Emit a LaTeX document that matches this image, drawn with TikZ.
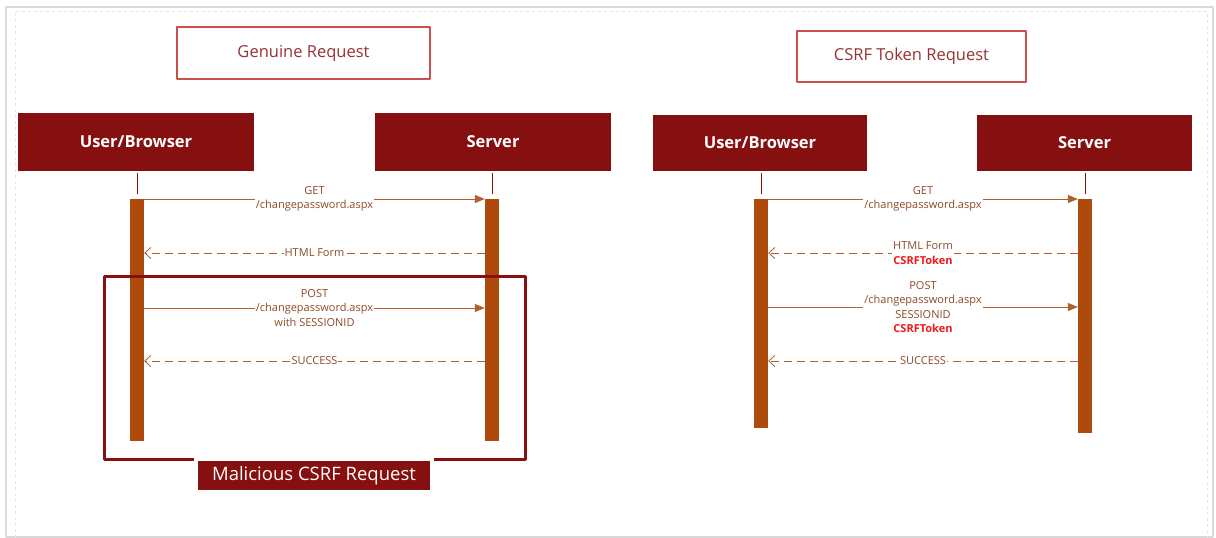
\documentclass[tikz,border=0pt]{standalone}
\usepackage{fontspec}
\setmainfont{Open Sans}
\usetikzlibrary{arrows.meta,positioning}
\definecolor{hdred}{HTML}{85100F}
\definecolor{barbrown}{HTML}{AE4A0C}
\definecolor{msgline}{HTML}{B0602C}
\definecolor{msgtext}{HTML}{8E4A26}
\definecolor{ttlred}{HTML}{C8504D}
\definecolor{ttltext}{HTML}{963232}
\definecolor{tokred}{HTML}{F01818}
\newcommand{\csrftok}{\textcolor{tokred}{\bfseries CSRFToken}}
\begin{document}
\begin{tikzpicture}[x=1pt,y=-1pt,line join=round,
	hd/.style={fill=hdred,text=white,inner sep=0pt,minimum height=58pt,font=\bfseries\fontsize{16.5}{18}\selectfont},
	ttl/.style={draw=ttlred,line width=1.2pt,text=ttltext,inner sep=0pt,font=\fontsize{16.5}{19}\selectfont},
	bar/.style={fill=barbrown,inner sep=0pt,minimum width=14pt,anchor=north},
	life/.style={draw=hdred,line width=0.7pt,dash pattern=on 21pt off 4pt,shorten <=2pt,shorten >=5pt},
	call/.style={draw=msgline,line width=0.8pt,-{Triangle[length=10pt,width=8pt]}},
	reply/.style={draw=msgline,line width=0.8pt,dash pattern=on 8pt off 5pt,-{Straight Barb[length=6pt,width=11pt]}},
	lbl/.style={fill=white,text=msgtext,inner sep=1pt,align=center,font=\fontsize{11}{14.5}\selectfont}]
	\useasboundingbox (0,0) rectangle (1216,538);
	% frame
	\draw[gray!30,line width=2pt] (6,7) rectangle (1213,537);
	\draw[gray!20,dashed] (15,538) -- (15,11) -- (1207,11) -- (1207,538);
	% titles
	\node[ttl,minimum width=253pt,minimum height=52pt] (gen) at (303.5,53) {Genuine Request};
	\node[ttl,minimum width=229pt,minimum height=51pt] (tok) at (911.5,56.5) {CSRF Token Request};
	% headers
	\node[hd,minimum width=236pt] (lu) at (136,142) {User/Browser};
	\node[hd,minimum width=236pt] (ls) at (493,142) {Server};
	\node[hd,minimum width=214pt,minimum height=56pt] (ru) at (760,143) {User/Browser};
	\node[hd,minimum width=215pt,minimum height=56pt] (rs) at (1084.5,143) {Server};
	% activation bars
	\node[bar,minimum height=242pt] (lub) at (137,199) {};
	\node[bar,minimum height=242pt] (lsb) at (492,199) {};
	\node[bar,minimum height=229pt] (rub) at (761,199) {};
	\node[bar,minimum height=234pt] (rsb) at (1085,199) {};
	\draw[life] (lub.north |- lu.south) -- (lub.north);
	\draw[life] (lsb.north |- ls.south) -- (lsb.north);
	\draw[life] (rub.north |- ru.south) -- (rub.north);
	\draw[life] (rsb.north |- rs.south) -- (rsb.north);
	% genuine request
	\draw[call] (lub.north east) -- node[lbl]{GET\\/changepassword.aspx} (lsb.north west);
	\draw[reply] ([yshift=-54pt]lsb.north west) -- node[lbl]{HTML Form} ([yshift=-54pt]lub.north east);
	\draw[call] ([yshift=-109pt]lub.north east) -- node[lbl]{POST\\/changepassword.aspx\\with SESSIONID} ([yshift=-109pt]lsb.north west);
	\draw[reply] ([yshift=-162pt]lsb.north west) -- node[lbl]{SUCCESS} ([yshift=-162pt]lub.north east);
	% malicious part
	\draw[hdred,line width=3pt] (194,459) -| (104,276) -| (525,459) -- (434,459);
	\node[fill=hdred,text=white,minimum width=232pt,minimum height=29pt,inner sep=0pt,font=\fontsize{18.5}{20}\selectfont] (mal) at (314,475.5) {Malicious CSRF Request};
	% token request
	\draw[call] (rub.north east) -- node[lbl]{GET\\/changepassword.aspx} (rsb.north west);
	\draw[reply] ([yshift=-54pt]rsb.north west) -- node[lbl]{HTML Form\\\csrftok} ([yshift=-54pt]rub.north east);
	\draw[call] ([yshift=-108pt]rub.north east) -- node[lbl]{POST\\/changepassword.aspx\\SESSIONID\\\csrftok} ([yshift=-108pt]rsb.north west);
	\draw[reply] ([yshift=-162pt]rsb.north west) -- node[lbl]{SUCCESS} ([yshift=-162pt]rub.north east);
\end{tikzpicture}
\end{document}
